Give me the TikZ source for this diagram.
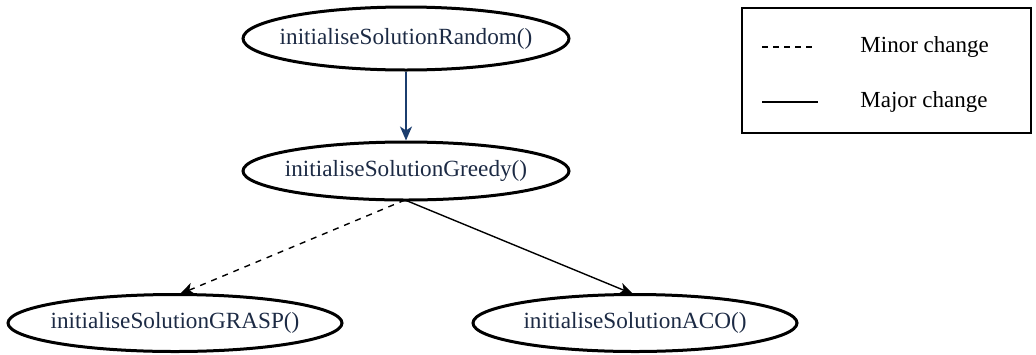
\documentclass[tikz,border=0pt]{standalone}
\usepackage{fontspec}
\setmainfont{Liberation Serif}
\usetikzlibrary{shapes.geometric,arrows.meta}
\definecolor{navy}{HTML}{1B3D6E}
\definecolor{txt}{HTML}{1C2A44}
\begin{document}
\begin{tikzpicture}[x=0.5pt,y=-0.5pt,
  fn/.style={ellipse,draw=black,line width=1.5pt,inner sep=0pt},
  fnt/.style={text=txt,inner sep=0pt,font=\fontsize{11.6}{13}\selectfont},
  conn/.style={line width=0.7pt,-{Stealth[length=7pt,width=6pt,inset=2pt]}},
  leg/.style={font=\fontsize{11.5}{13}\selectfont,anchor=west,text=black,inner sep=0pt}]
\useasboundingbox (0,0) rectangle (1036,354);
\node[fn,minimum width=163pt,minimum height=31.5pt] (rand) at (406,38.5) {};
\node[fn,minimum width=163pt,minimum height=29pt] (greedy) at (406,171) {};
\node[fn,minimum width=167pt,minimum height=28.5pt] (grasp) at (175,323) {};
\node[fn,minimum width=162pt,minimum height=28.5pt] (aco) at (635,323) {};
\node[fnt] (randt) at (rand.center) {initialiseSolutionRandom()};
\node[fnt] (greedyt) at (greedy.center) {initialiseSolutionGreedy()};
\node[fnt] (graspt) at (grasp.center) {initialiseSolutionGRASP()};
\node[fnt] (acot) at (aco.center) {initialiseSolutionACO()};
\coordinate (gs) at (405,200);
\coordinate (graspend) at (180,294);
\coordinate (acoend) at (633,294);
\draw[conn,draw=navy,fill=navy] (rand.south) -- (greedy.north);
\draw[conn,dashed] (gs) -- (graspend);
\draw[conn] (gs) -- (acoend);
% legend
\node[draw=black,line width=0.7pt,minimum width=144.5pt,minimum height=62.5pt,inner sep=0pt] (legbox) at (886.5,70.5) {};
\coordinate (d1) at (762,47);
\coordinate (d2) at (812,47);
\coordinate (s1) at (762,102);
\coordinate (s2) at (818,102);
\draw[line width=0.7pt,dash pattern=on 3pt off 2.5pt] (d1) -- (d2);
\draw[line width=0.7pt] (s1) -- (s2);
\node[leg] (minor) at (860,47) {Minor change};
\node[leg] (major) at (860,102) {Major change};
\end{tikzpicture}
\end{document}
